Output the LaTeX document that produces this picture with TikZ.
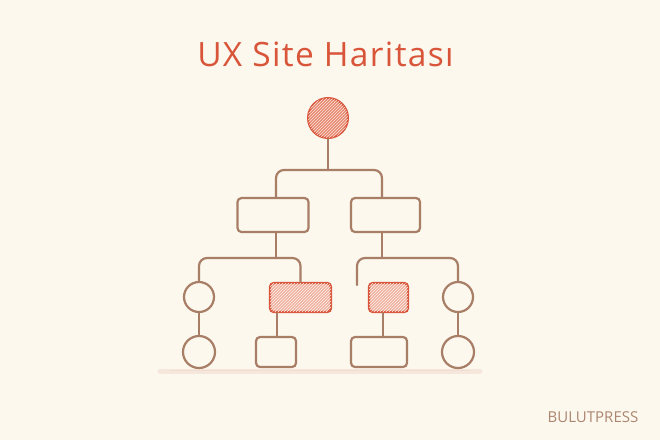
\documentclass[tikz,border=0pt]{standalone}
\usepackage{fontspec}
\setmainfont{Open Sans}
\usetikzlibrary{patterns}
\definecolor{bg}{HTML}{FCF8EE}
\definecolor{brn}{HTML}{A87E66}
\definecolor{rd}{HTML}{D9553A}
\definecolor{rdfill}{HTML}{F0B2A0}
\definecolor{rootfill}{HTML}{E98A72}
\definecolor{ground}{HTML}{F2DCD2}
\definecolor{brand}{HTML}{AC8670}
\tikzset{
  link/.style={draw=brn, line width=2.2pt, rounded corners=8pt, line cap=round},
  pbox/.style={draw=brn, line width=2.2pt, rounded corners=4pt, inner sep=0pt, fill=bg},
  pcirc/.style={draw=brn, line width=2.2pt, circle, inner sep=0pt, fill=bg},
  hbox/.style={draw=rd, line width=2.4pt, rounded corners=4pt, inner sep=0pt, fill=rdfill,
    postaction={pattern=north east lines, pattern color=white!80!rdfill}},
}
\begin{document}
\begin{tikzpicture}[x=1pt,y=-1pt]
\fill[bg] (0,0) rectangle (660,440);
\useasboundingbox (0,0) rectangle (660,440);
% ground
\draw[ground, line width=5pt, line cap=round, opacity=0.6] (160,371) -- (480,371);
\draw[ground!80!rd, line width=1pt, line cap=round, opacity=0.25] (170,370) -- (470,370);
% title
\node[anchor=base, text=rd, font=\fontsize{33.5}{36}\selectfont\addfontfeatures{LetterSpace=4}] (title) at (325.5,66) {UX Site Haritası};
% root
\node[circle, draw=rd, line width=2pt, minimum size=40pt, inner sep=0pt, fill=rootfill,
  postaction={pattern=north east lines, pattern color=white!75!rootfill}] (root) at (328,118) {};
% level 2
\node[pbox, minimum width=71pt, minimum height=34pt] (b1) at (273,215) {};
\node[pbox, minimum width=69pt, minimum height=34pt] (b2) at (385.5,215) {};
% level 3
\node[pcirc, minimum size=30pt] (c1) at (199,297) {};
\node[hbox, minimum width=61pt, minimum height=29pt] (r1) at (300.5,297.5) {};
\node[hbox, minimum width=39pt, minimum height=29pt] (r2) at (388.5,297.5) {};
\node[pcirc, minimum size=30pt] (c2) at (458,297) {};
% level 4
\node[pcirc, minimum size=32pt] (c3) at (199,352) {};
\node[pbox, minimum width=40pt, minimum height=30pt] (d1) at (276,352) {};
\node[pbox, minimum width=56pt, minimum height=30pt] (d2) at (379,352) {};
\node[pcirc, minimum size=32pt] (c4) at (458,352) {};
% connectors level 1-2
\coordinate (j1) at (328,170);
\draw[link] (root.south) -- (j1);
\draw[link] (j1) -| ([xshift=3pt]b1.north);
\draw[link] (j1) -| ([xshift=-3.5pt]b2.north);
% connectors level 2-3
\coordinate (j2) at (276,258);
\coordinate (j3) at (382,258);
\coordinate (dangle) at (357,285);
\draw[link] ([xshift=3pt]b1.south) -- (j2);
\draw[link] (j2) -| (c1.north);
\draw[link] (j2) -| (r1.north);
\draw[link] ([xshift=-3.5pt]b2.south) -- (j3);
\draw[link] (j3) -| (dangle);
\draw[link] (j3) -| (c2.north);
% connectors level 3-4
\draw[link] ([xshift=1pt]d1.north) -- ([xshift=1pt]d1.north |- r1.south);
\draw[link] ([xshift=4pt]d2.north) -- ([xshift=4pt]d2.north |- r2.south);
\draw[link] (c2.south) -- (c4.north);
\draw[link] (c1.south) -- (c3.north);
% brand
\node[text=brand, font=\fontsize{15}{17}\selectfont, anchor=base] (brandname) at (593,422) {BULUTPRESS};
\end{tikzpicture}
\end{document}
